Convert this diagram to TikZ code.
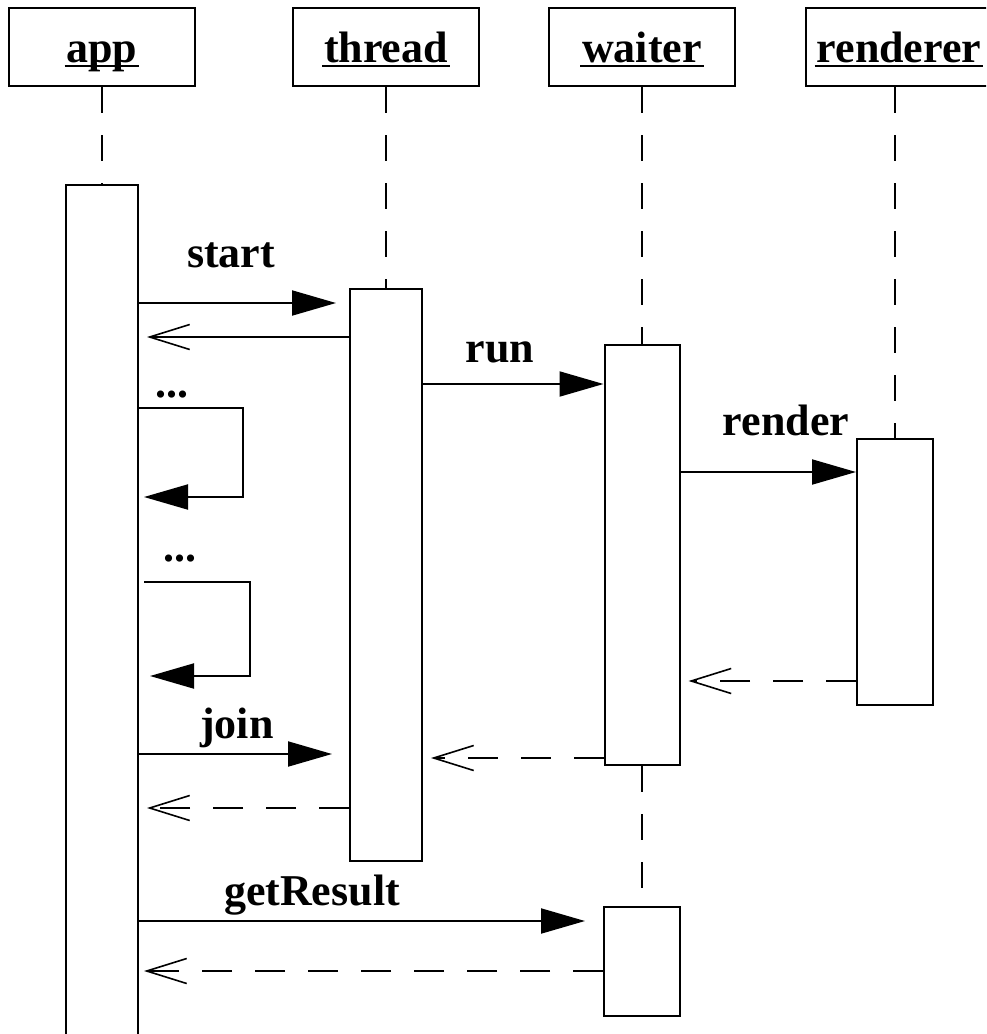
\documentclass[tikz,border=0pt]{standalone}
\usepackage{fontspec}
\setmainfont{Liberation Serif}
\usetikzlibrary{arrows.meta}
\newcommand\hul[1]{\setbox0\hbox{#1}\rlap{\kern-2pt\rule[-5pt]{\dimexpr\wd0+4pt\relax}{2pt}}\box0}
\tikzset{
  lbl/.style={font=\fontsize{44pt}{48pt}\selectfont\bfseries, inner sep=0pt, anchor=base},
  head/.style={draw, line width=2pt, minimum width=186pt, minimum height=78pt, inner sep=0pt,
    text height=39pt, text depth=9pt, font=\fontsize{44pt}{48pt}\selectfont\bfseries},
  actbar/.style={draw, line width=2pt, fill=white, anchor=north, inner sep=0pt},
  life/.style={line width=2pt, dash pattern=on 26pt off 22pt},
  msg/.style={line width=2pt, -{Triangle[length=44pt,width=25pt]}},
  ret/.style={line width=2pt, -{Straight Barb[length=40pt,width=25pt,line width=1.6pt]}},
  dret/.style={ret, dash pattern=on 30pt off 23pt},
}
\begin{document}
\begin{tikzpicture}[x=1pt,y=-1pt]
\clip (0,0) rectangle (986,1034);
\fill[white] (0,0) rectangle (986,1034);
% headers
\node[head] (app) at (102,47) {\hul{app}};
\node[head] (thread) at (386,47) {\hul{thread}};
\node[head] (waiter) at (642,47) {\hul{waiter}};
\node[head] (renderer) at (899,47) {\hul{renderer}};
% activation bars
\node[actbar, minimum width=72pt, minimum height=900pt] (appbar) at (102,184) {};
\node[actbar, minimum width=72pt, minimum height=572pt] (threadbar) at (386,288) {};
\node[actbar, minimum width=75pt, minimum height=420pt] (waiterbar) at (642,344) {};
\node[actbar, minimum width=76pt, minimum height=266pt] (renderbar) at (895,438) {};
\node[actbar, minimum width=76pt, minimum height=109pt] (waiter2) at (642,906) {};
% lifelines
\draw[life] (app.south) -- (appbar.north);
\draw[life] (thread.south) -- (threadbar.north);
\draw[life] (waiter.south) -- (waiterbar.north);
\draw[life] (waiterbar.south) -- (waiter2.north);
\draw[life] (renderbar.north |- renderer.south) -- (renderbar.north);
% message levels
\coordinate (y303) at (0,303);
\coordinate (y337) at (0,337);
\coordinate (y384) at (0,384);
\coordinate (y408) at (0,408);
\coordinate (y472) at (0,472);
\coordinate (y497) at (0,497);
\coordinate (y582) at (0,582);
\coordinate (y676) at (0,676);
\coordinate (y681) at (0,681);
\coordinate (y754) at (0,754);
\coordinate (y758) at (0,758);
\coordinate (y808) at (0,808);
\coordinate (y921) at (0,921);
\coordinate (y971) at (0,971);
% messages
\draw[msg, shorten >=13pt] (appbar.east |- y303) -- (threadbar.west |- y303);
\node[lbl] (lstart) at (231,267) {start};
\draw[ret, shorten >=8pt] (threadbar.west |- y337) -- (appbar.east |- y337);
\draw[msg] (threadbar.east |- y384) -- (waiterbar.west |- y384);
\node[lbl] (lrun) at (500,362) {run};
\draw[msg] (appbar.east |- y408) -- ++(104,0) |- ([xshift=5pt]appbar.east |- y497);
\node[lbl] (ldots1) at (172,397) {...};
\draw[msg] (waiterbar.east |- y472) -- (renderbar.west |- y472);
\node[lbl] (lrender) at (786,435) {render};
\draw[msg] ([xshift=5pt]appbar.east |- y582) -- ++(106,0) |- ([xshift=11pt]appbar.east |- y676);
\node[lbl] (ldots2) at (180,561) {...};
\draw[dret, shorten >=8pt] (renderbar.west |- y681) -- (waiterbar.east |- y681);
\draw[msg, shorten >=17pt] (appbar.east |- y754) -- (threadbar.west |- y754);
\node[lbl] (ljoin) at (237,738) {join};
\draw[dret, shorten >=8pt] (waiterbar.west |- y758) -- (threadbar.east |- y758);
\draw[dret, shorten >=8pt] (threadbar.west |- y808) -- (appbar.east |- y808);
\draw[msg, shorten >=18pt] (appbar.east |- y921) -- (waiter2.west |- y921);
\node[lbl] (lget) at (312,905) {getResult};
\draw[dret, shorten >=5pt] (waiter2.west |- y971) -- (appbar.east |- y971);
\end{tikzpicture}
\end{document}
